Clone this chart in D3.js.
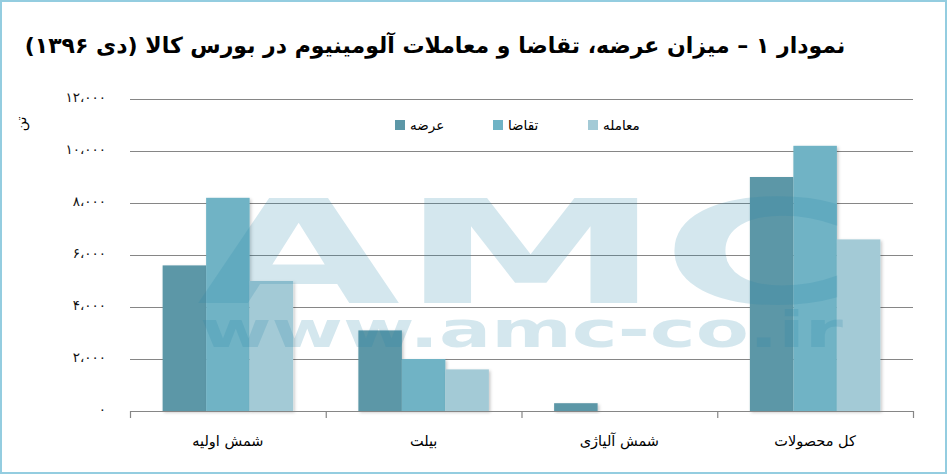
<!DOCTYPE html>
<html>
<head>
<meta charset="utf-8">
<script src="https://cdn.jsdelivr.net/npm/d3@7"></script>
<style>
html,body{margin:0;padding:0;background:#fff;}
svg{display:block;}
</style>
</head>
<body>
<svg id="chart" width="947" height="474"></svg>
<script>
const categories = ["شمش اولیه", "بیلت", "شمش آلیاژی", "کل محصولات"];
const seriesNames = ["عرضه", "تقاضا", "معامله"];
const arzeh = [5600, 3100, 300, 9000];
const taghaza = [8200, 2000, 0, 10200];
const moamele = [5000, 1600, 0, 6600];
const yTickValues = [0, 2000, 4000, 6000, 8000, 10000, 12000];
const yTickLabels = ["۰", "۲،۰۰۰", "۴،۰۰۰", "۶،۰۰۰", "۸،۰۰۰", "۱۰،۰۰۰", "۱۲،۰۰۰"];
const titleText = "نمودار ۱ – میزان عرضه، تقاضا و معاملات آلومینیوم در بورس کالا (دی ۱۳۹۶)";
const yAxisTitle = "تن";
const colors = ["#5c97a7", "#6fb3c5", "#a3cad6"];

const series = [arzeh, taghaza, moamele];
const svg = d3.select("#chart");
const W = 947, H = 474;
const font = "'DejaVu Sans', sans-serif";

// frame
svg.append("rect").attr("x", 1).attr("y", 1).attr("width", W - 2).attr("height", H - 2)
  .attr("fill", "#fff").attr("stroke", "#94cde0").attr("stroke-width", 2);

const defs = svg.append("defs");
const f = defs.append("filter").attr("id", "sh").attr("x", "-20%").attr("y", "-20%").attr("width", "150%").attr("height", "150%");
f.append("feDropShadow").attr("dx", 1.5).attr("dy", 1.5).attr("stdDeviation", 1.5)
  .attr("flood-color", "#000").attr("flood-opacity", 0.22);

const x0 = d3.scaleBand().domain(categories).range([130, 913]).paddingInner(0).paddingOuter(0);
const x1 = d3.scaleBand().domain(seriesNames).range([0, x0.bandwidth()]).paddingOuter(0.75).paddingInner(0);
const y = d3.scaleLinear().domain([0, 12000]).range([411, 99]);

// gridlines
svg.append("g").selectAll("line").data(yTickValues).join("line")
  .attr("x1", 130).attr("x2", 913)
  .attr("y1", d => y(d) + 0.5).attr("y2", d => y(d) + 0.5)
  .attr("stroke", "#868686").attr("stroke-width", 1.2);

// y labels
svg.append("g").selectAll("text").data(yTickValues).join("text")
  .attr("x", 106).attr("y", d => y(d) - 2)
  .attr("dy", "0.35em")
  .attr("text-anchor", "end")
  .attr("font-family", font).attr("font-size", 13.5).attr("fill", "#111")
  .attr("letter-spacing", 3.2)
  .text((d, i) => yTickLabels[i]);

// y axis title
svg.append("text")
  .attr("transform", "translate(21,124) rotate(-90)")
  .attr("text-anchor", "middle").attr("dy", "0.35em")
  .attr("font-family", font).attr("font-size", 14).attr("fill", "#000")
  .style("direction", "rtl")
  .text(yAxisTitle);

// bars
const g = svg.append("g");
categories.forEach((c, ci) => {
  series.forEach((s, si) => {
    if (s[ci] <= 0) return;
    g.append("rect")
      .attr("x", x0(c) + x1(seriesNames[si]))
      .attr("y", y(s[ci]))
      .attr("width", x1.bandwidth())
      .attr("height", y(0) - y(s[ci]))
      .attr("fill", colors[si])
      .attr("filter", "url(#sh)");
  });
});

// x axis line and ticks
svg.append("line").attr("x1", 130).attr("x2", 913).attr("y1", y(0) + 0.5).attr("y2", y(0) + 0.5)
  .attr("stroke", "#868686").attr("stroke-width", 1.2);
const bounds = categories.map(c => x0(c)).concat([x0.range()[1]]);
svg.append("g").selectAll("line").data(bounds).join("line")
  .attr("x1", d => d + 0.5).attr("x2", d => d + 0.5)
  .attr("y1", y(0)).attr("y2", y(0) + 7)
  .attr("stroke", "#868686").attr("stroke-width", 1.2);

// x labels
svg.append("g").selectAll("text").data(categories).join("text")
  .attr("x", d => x0(d) + x0.bandwidth() / 2)
  .attr("y", 446)
  .attr("text-anchor", "middle")
  .attr("font-family", font).attr("font-size", 14.5).attr("fill", "#000")
  .style("direction", "rtl")
  .text(d => d);

// watermark
const wm = svg.append("g").attr("fill", "#2a86a8").attr("fill-opacity", 0.2).attr("pointer-events", "none");
wm.append("text").attr("x", 197).attr("y", 303)
  .attr("font-family", font).attr("font-weight", "bold").attr("font-size", 144)
  .attr("textLength", 657).attr("lengthAdjust", "spacingAndGlyphs")
  .text("AMC");
wm.append("text").attr("x", 200).attr("y", 347)
  .attr("font-family", font).attr("font-weight", "bold").attr("font-size", 50)
  .attr("textLength", 643).attr("lengthAdjust", "spacingAndGlyphs")
  .text("www.amc-co.ir");

// legend
const legendX = [395, 493, 588];
const lg = svg.append("g");
seriesNames.forEach((n, i) => {
  lg.append("rect").attr("x", legendX[i]).attr("y", 120).attr("width", 10).attr("height", 10).attr("fill", colors[i]);
  lg.append("text").attr("x", legendX[i] + 15).attr("y", 125).attr("dy", "0.35em")
    .attr("font-family", font).attr("font-size", 13.5).attr("fill", "#000")
    .attr("text-anchor", "start")
    .text(n);
});

// title
svg.append("text")
  .attr("x", 435).attr("y", 53)
  .attr("text-anchor", "middle")
  .attr("font-family", font).attr("font-weight", "bold").attr("font-size", 22)
  .attr("fill", "#000")
  .style("direction", "rtl")
  .text(titleText);
</script>
</body>
</html>
